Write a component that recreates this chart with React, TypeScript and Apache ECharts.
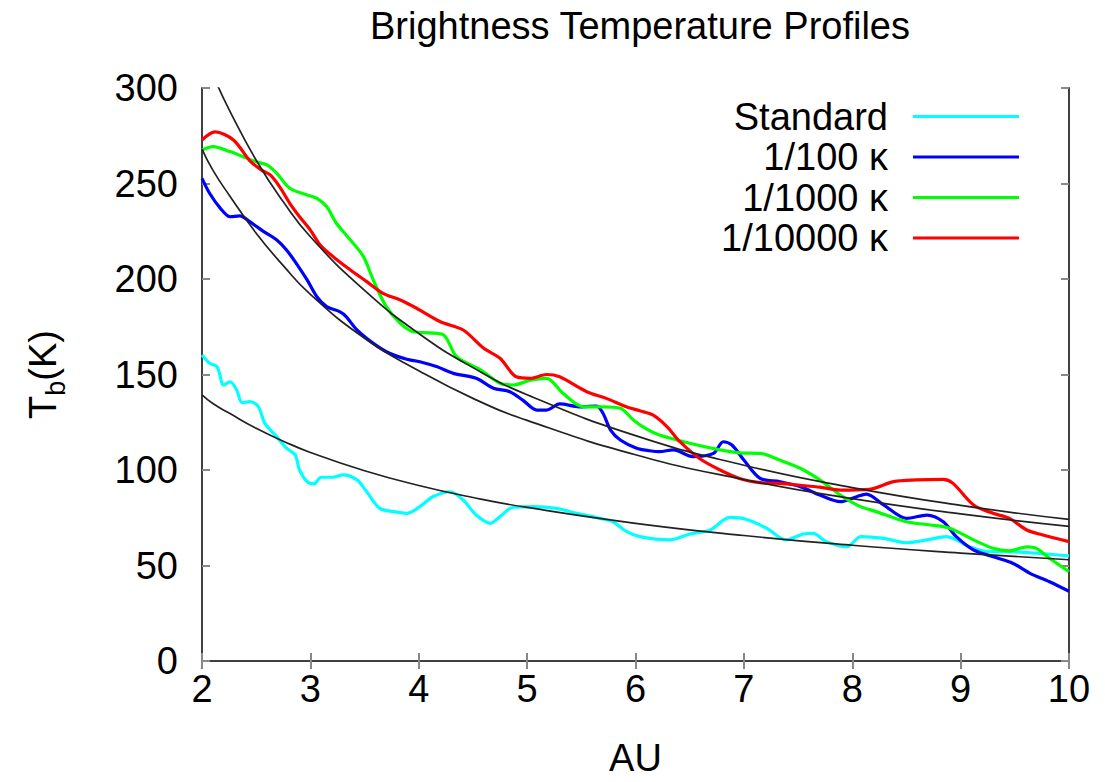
import React, { useEffect, useRef } from "react";
import * as echarts from "echarts";

// ---- data ----
const auStandard = [2.0, 2.07, 2.14, 2.2, 2.26, 2.32, 2.37, 2.44, 2.52, 2.58, 2.69, 2.78, 2.86, 2.9, 2.97, 3.03, 3.1, 3.21, 3.3, 3.43, 3.52, 3.64, 3.77, 3.89, 4.01, 4.13, 4.29, 4.41, 4.53, 4.66, 4.75, 4.87, 5.06, 5.27, 5.46, 5.67, 5.79, 5.92, 6.04, 6.32, 6.5, 6.69, 6.87, 7.02, 7.21, 7.39, 7.55, 7.64, 7.76, 7.95, 8.08, 8.29, 8.5, 8.69, 8.87, 8.96, 9.08, 9.27, 9.45, 9.7, 10.0];
const tbStandard = [160.2, 155.9, 154, 144.5, 146.2, 141.9, 135.2, 135.8, 133.2, 124.4, 117.4, 111.4, 107.9, 100, 93.9, 92.7, 96.2, 96.2, 97.4, 94.8, 88.6, 79.9, 78.2, 77.3, 80.8, 86, 88.6, 84.3, 76.4, 72.1, 75.6, 80.5, 80.8, 79.9, 77.3, 74.7, 72.9, 67.7, 65.1, 63.4, 66.5, 68.6, 75.2, 74.2, 69.5, 63.4, 66.5, 66.8, 62.5, 59.8, 65.1, 64.2, 61.9, 63.4, 65.1, 63.4, 59.8, 57.2, 57.2, 56.4, 55];

const au100 = [2.0, 2.07, 2.17, 2.26, 2.35, 2.44, 2.57, 2.69, 2.78, 2.87, 2.97, 3.06, 3.15, 3.27, 3.33, 3.43, 3.58, 3.73, 3.89, 4.01, 4.17, 4.32, 4.53, 4.69, 4.84, 4.96, 5.09, 5.18, 5.3, 5.49, 5.64, 5.7, 5.77, 5.86, 6.01, 6.13, 6.22, 6.35, 6.53, 6.72, 6.81, 6.89, 7.0, 7.15, 7.33, 7.52, 7.7, 7.89, 8.04, 8.13, 8.29, 8.5, 8.69, 8.84, 8.96, 9.12, 9.3, 9.48, 9.64, 9.82, 10.0];
const tb100 = [252.7, 244.9, 237, 232.6, 233, 230, 224.8, 220.4, 215.2, 208.2, 199.5, 190.7, 185.5, 182.9, 180.3, 173.3, 166.3, 161.1, 158, 156.7, 154, 150.6, 148, 142.8, 141, 136.6, 131.4, 131.4, 134.6, 133.1, 133.5, 129.7, 120.9, 115.7, 111.4, 110.1, 109.6, 110.5, 107, 108.7, 114.8, 113.1, 105.2, 95.6, 93.9, 91.3, 86.9, 83.4, 86, 87.4, 81.7, 74.7, 76.4, 72.9, 65.1, 58.1, 54.6, 51.2, 45.9, 41.5, 36.5];

const au1000 = [2.0, 2.1, 2.26, 2.38, 2.5, 2.6, 2.69, 2.81, 2.97, 3.06, 3.15, 3.24, 3.37, 3.49, 3.58, 3.7, 3.83, 3.95, 4.1, 4.23, 4.35, 4.57, 4.75, 4.87, 5.03, 5.18, 5.33, 5.52, 5.7, 5.86, 5.98, 6.1, 6.22, 6.5, 6.78, 6.96, 7.15, 7.33, 7.52, 7.7, 7.89, 8.05, 8.22, 8.5, 8.72, 8.9, 9.12, 9.3, 9.45, 9.61, 9.7, 9.82, 10.0];
const tb1000 = [267.5, 269.3, 266.7, 264, 261.4, 259.7, 255.3, 247.5, 244, 242.2, 237.9, 229.2, 220.4, 211.7, 199.5, 185.5, 176.8, 172.4, 171.8, 170.7, 159.3, 152.4, 145.4, 144.5, 147, 148, 140.2, 133.1, 133.1, 132.3, 126.2, 121.5, 118.3, 114, 110.5, 109, 108.7, 105.2, 100.9, 94.8, 86.9, 81.5, 78.2, 72.9, 71.2, 69.5, 63.4, 59, 57.7, 59.8, 59, 53.8, 46.8];

const au10000 = [2.0, 2.12, 2.29, 2.44, 2.55, 2.63, 2.72, 2.81, 2.9, 3.0, 3.09, 3.21, 3.37, 3.52, 3.67, 3.83, 3.98, 4.2, 4.41, 4.6, 4.75, 4.9, 5.03, 5.18, 5.3, 5.55, 5.73, 5.92, 6.04, 6.16, 6.29, 6.41, 6.59, 6.78, 6.96, 7.15, 7.33, 7.52, 7.7, 7.89, 8.16, 8.38, 8.59, 8.84, 8.93, 9.12, 9.3, 9.45, 9.61, 9.76, 10.0];
const tb10000 = [272.8, 277, 272.8, 262, 257, 254.5, 248, 239.6, 232.6, 225.6, 217.8, 211.7, 204.7, 198.6, 192.5, 189, 184.7, 177.6, 173.3, 163.7, 158.5, 148.8, 148, 150, 148.8, 141, 137.5, 133, 131, 128.8, 122.7, 114.8, 106, 100, 95.6, 93.4, 93, 92, 91, 89.5, 89.9, 93.9, 94.8, 95.1, 93, 81.7, 77.3, 74.7, 68.6, 66, 62.5];

// fitted (black) curves
const auFit = [2.0, 2.1, 2.25, 2.5, 2.75, 3.0, 3.5, 4.0, 4.5, 5.0, 6.0, 7.0, 8.0, 9.0, 10.0];
const tbFitUpper = [321, 307, 288.7, 262.2, 240.4, 222.1, 194, 171.5, 153.6, 139.4, 118.0, 102.5, 90.8, 81.5, 74.1];
const tbFitMiddle = [268, 257, 244, 224, 207, 192, 169, 152, 137.5, 126, 108, 95, 85, 77, 70.5];
const tbFitLower = [139.3, 134.8, 129.8, 121.8, 115.1, 109.2, 99.6, 91.9, 85.6, 80.4, 72.1, 65.7, 60.6, 56.5, 53.0];

const seriesNames = ["Standard", "1/100 \u03ba", "1/1000 \u03ba", "1/10000 \u03ba"];
const seriesColors = ["#00ffff", "#0000ff", "#00ff00", "#ff0000"];
const xTicks = [2, 3, 4, 5, 6, 7, 8, 9, 10];
const yTicks = [0, 50, 100, 150, 200, 250, 300];

const zip = (xs: number[], ys: number[]) => xs.map((x, i) => [x, ys[i]]);

const FONT = "'Liberation Sans', Arial, Helvetica, sans-serif";
const FS = 38;

export default function App() {
  const ref = useRef<HTMLDivElement>(null);
  useEffect(() => {
    document.body.style.margin = "0";
    if (!ref.current) return;
    const chart = echarts.init(ref.current, undefined, { renderer: "svg" });
    const colored = [
      zip(auStandard, tbStandard),
      zip(au100, tb100),
      zip(au1000, tb1000),
      zip(au10000, tb10000),
    ];
    const fits = [tbFitUpper, tbFitMiddle, tbFitLower];
    const axisLineStyle = { color: "#404040", width: 2 };
    const tickStyle = { color: "#888888", width: 2 };
    chart.setOption({
      animation: false,
      backgroundColor: "#ffffff",
      textStyle: { fontFamily: FONT },
      title: {
        text: "Brightness Temperature Profiles",
        left: 635,
        top: 2,
        textAlign: "center",
        textStyle: { fontFamily: FONT, fontSize: FS, fontWeight: "normal", color: "#000" },
      },
      grid: { left: 202, right: 36, top: 88, bottom: 121, containLabel: false },
      legend: {
        orient: "vertical",
        right: 86,
        top: 97.5,
        padding: 0,
        align: "right",
        icon: "rect",
        itemWidth: 106,
        itemHeight: 3,
        itemGap: 2.5,
        data: seriesNames,
        formatter: (n: string) => `{t|${n}}`,
        textStyle: {
          fontFamily: FONT,
          fontSize: FS,
          rich: {
            t: {
              fontFamily: FONT,
              fontSize: FS,
              color: "#000",
              width: 165,
              align: "right",
              padding: [0, 20, 0, 0],
            },
          },
        },
      },
      xAxis: [
        {
          type: "value",
          min: 2,
          max: 10,
          interval: 1,
          position: "bottom",
          name: "AU",
          nameLocation: "middle",
          nameGap: 78,
          nameTextStyle: { fontFamily: FONT, fontSize: FS, color: "#000" },
          axisLine: { show: true, lineStyle: axisLineStyle },
          axisTick: { show: true, inside: true, length: 8, lineStyle: tickStyle },
          axisLabel: {
            fontFamily: FONT,
            fontSize: FS,
            color: "#000",
            margin: 9,
            formatter: (v: number) => (xTicks.includes(v) ? String(v) : ""),
          },
          splitLine: { show: false },
        },
        {
          type: "value",
          min: 2,
          max: 10,
          interval: 1,
          position: "top",
          axisLine: { show: true, lineStyle: axisLineStyle },
          axisTick: { show: true, inside: true, length: 8, lineStyle: tickStyle },
          axisLabel: { show: false },
          splitLine: { show: false },
        },
      ],
      yAxis: [
        {
          type: "value",
          min: 0,
          max: 300,
          interval: 50,
          position: "left",
          name: "{a|T}{s|b}{a|(K)}",
          nameLocation: "middle",
          nameRotate: 90,
          nameGap: 140,
          nameTextStyle: {
            fontFamily: FONT,
            color: "#000",
            rich: {
              a: { fontFamily: FONT, fontSize: FS, color: "#000", lineHeight: 46, verticalAlign: "bottom" },
              s: { fontFamily: FONT, fontSize: 27, color: "#000", lineHeight: 46, verticalAlign: "bottom", padding: [0, 0, -7, 0] },
            },
          },
          axisLine: { show: true, lineStyle: axisLineStyle },
          axisTick: { show: true, inside: true, length: 8, lineStyle: tickStyle },
          axisLabel: {
            fontFamily: FONT,
            fontSize: FS,
            color: "#000",
            margin: 24,
            formatter: (v: number) => (yTicks.includes(v) ? String(v) : ""),
          },
          splitLine: { show: false },
        },
        {
          type: "value",
          min: 0,
          max: 300,
          interval: 50,
          position: "right",
          axisLine: { show: true, lineStyle: axisLineStyle },
          axisTick: { show: true, inside: true, length: 8, lineStyle: tickStyle },
          axisLabel: { show: false },
          splitLine: { show: false },
        },
      ],
      series: [
        ...colored.map((d, i) => ({
          name: seriesNames[i],
          type: "line",
          xAxisIndex: 0,
          yAxisIndex: 0,
          data: d,
          smooth: 0.3,
          symbol: "none",
          clip: true,
          z: 2,
          lineStyle: { color: seriesColors[i], width: 3.2 },
          itemStyle: { color: seriesColors[i] },
        })),
        ...fits.map((ys, i) => ({
          name: "fit " + (i + 1),
          type: "line",
          xAxisIndex: 0,
          yAxisIndex: 0,
          data: zip(auFit, ys),
          smooth: true,
          symbol: "none",
          clip: true,
          z: 3,
          lineStyle: { color: "#222222", width: 1.7 },
          itemStyle: { color: "#222222" },
        })),
      ],
    });
    return () => chart.dispose();
  }, []);
  return <div ref={ref} style={{ width: 1105, height: 782 }} />;
}
